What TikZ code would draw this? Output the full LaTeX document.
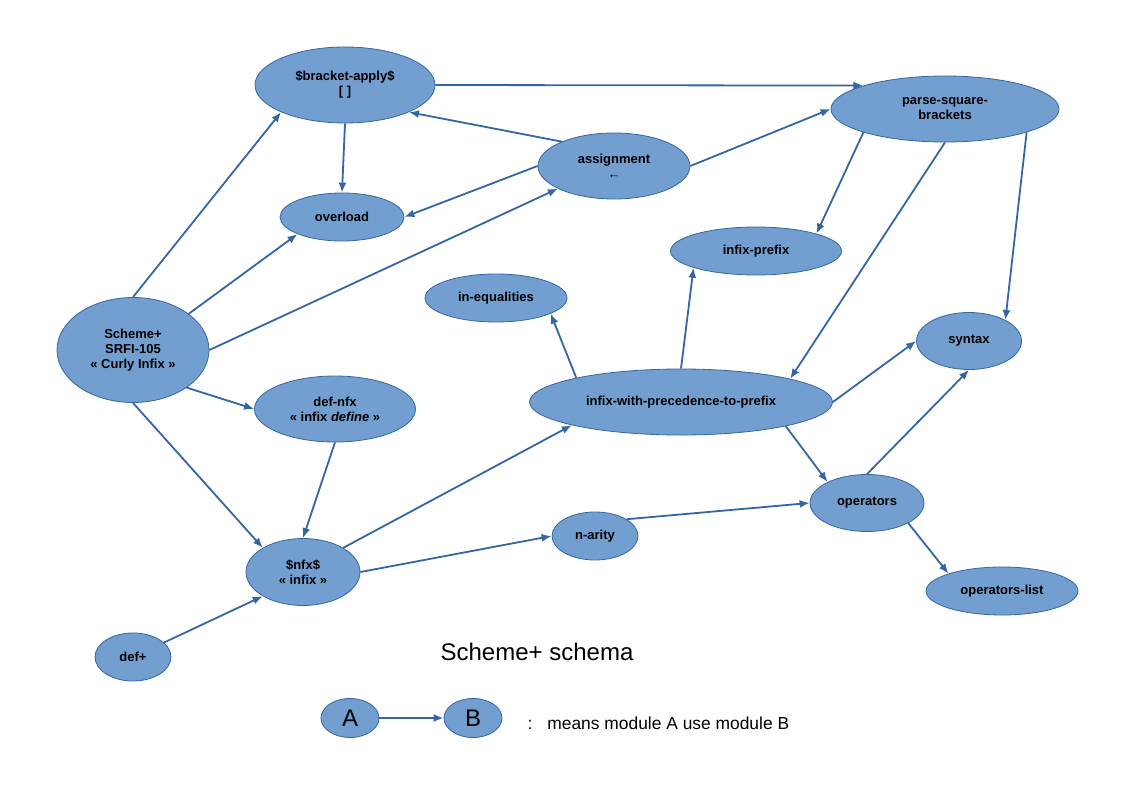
\documentclass[tikz,border=0pt]{standalone}
\usepackage{fontspec}
\setmainfont{Liberation Sans}
\usetikzlibrary{shapes.geometric,arrows.meta}
\definecolor{nodefill}{HTML}{729FCF}
\definecolor{nodedraw}{HTML}{3465A4}
\tikzset{
  mod/.style={ellipse, draw=nodedraw, fill=nodefill, line width=0.8pt, inner sep=0pt, align=center,
    font=\fontsize{13}{15}\selectfont\bfseries},
  uses/.style={draw=nodedraw, line width=1.8pt, -{Latex[length=10pt,width=8pt]}},
}
\begin{document}
\begin{tikzpicture}[x=1pt,y=-1pt]
\useasboundingbox (0,0) rectangle (1123,794);
\node[mod, minimum width=180, minimum height=76] (bracket) at (345,85) {\$bracket-apply\$\\{[ ]}};
\node[mod, minimum width=228, minimum height=66] (parse) at (945,109) {parse-square-\\brackets};
\node[mod, minimum width=152, minimum height=66] (assign) at (614,166) {assignment\\[0pt]{\fontsize{13}{13}\selectfont\mdseries ←}};
\node[mod, minimum width=124, minimum height=48] (overload) at (342,217) {overload};
\node[mod, minimum width=171, minimum height=48] (infixprefix) at (756,251) {infix-prefix};
\node[mod, minimum width=142, minimum height=48] (ineq) at (496,298) {in-equalities};
\node[mod, minimum width=105, minimum height=57] (syntax) at (969,341) {syntax};
\node[mod, minimum width=152, minimum height=105] (scheme) at (133,350) {Scheme+\\SRFI-105\\« Curly Infix »};
\node[mod, minimum width=161, minimum height=66] (defnfx) at (335,409) {def-nfx\\« infix \textit{define} »};
\node[mod, minimum width=303, minimum height=66] (iwp) at (681,402) {infix-with-precedence-to-prefix};
\node[mod, minimum width=114, minimum height=57] (operators) at (867,503) {operators};
\node[mod, minimum width=86, minimum height=48] (narity) at (595,536) {n-arity};
\node[mod, minimum width=114, minimum height=67] (nfx) at (303,572) {\$nfx\$\\« infix »};
\node[mod, minimum width=152, minimum height=48] (opslist) at (1002,591) {operators-list};
\node[mod, minimum width=76, minimum height=48] (defplus) at (133,657) {def+};

\node[font=\fontsize{24}{28}\selectfont] (title) at (537,652) {Scheme+ schema};
\node[mod, minimum width=58, minimum height=39, font=\fontsize{24}{28}\selectfont] (A) at (350,718) {A};
\node[mod, minimum width=58, minimum height=39, font=\fontsize{24}{28}\selectfont] (B) at (473,718) {B};
\node[anchor=west, font=\fontsize{17.4}{20}\selectfont] (legend) at (524,723) {:\hspace{15pt}means module A use module B};

\draw[uses] (bracket.east) -- (parse.164);
\draw[uses] (bracket.south) -- (overload.north);
\draw[uses] (assign.155.6) -- (bracket.337.6);
\draw[uses] (assign.west) -- (overload.east);
\draw[uses] (assign.east) -- (parse.west);
\draw[uses] (scheme.north) -- (bracket.203.6);
\draw[uses] (scheme.33.7) -- (overload.201.1);
\draw[uses] (scheme.east) -- (assign.202.2);
\draw[uses] (scheme.325.6) -- (defnfx.west);
\draw[uses] (scheme.south) -- (nfx.149.7);
\draw[uses] (defnfx.south) -- (nfx.north);
\draw[uses] (defplus.25.8) -- (nfx.211);
\draw[uses] (nfx.31) -- (iwp.192.5);
\draw[uses] (nfx.east) -- (narity.west);
\draw[uses] (narity.28.7) -- (operators.west);
\draw[uses] (iwp.167) -- (ineq.344);
\draw[uses] (iwp.north) -- (infixprefix.195.6);
\draw[uses] (iwp.east) -- (syntax.west);
\draw[uses] (iwp.347.9) -- (operators.152.3);
\draw[uses] (parse.196) -- (infixprefix.16.4);
\draw[uses] (parse.south) -- (iwp.12.5);
\draw[uses] (parse.344) -- (syntax.30.7);
\draw[uses] (operators.north) -- (syntax.south);
\draw[uses] (operators.334) -- (opslist.162);
\draw[uses] (A.east) -- (B.west);
\end{tikzpicture}
\end{document}
